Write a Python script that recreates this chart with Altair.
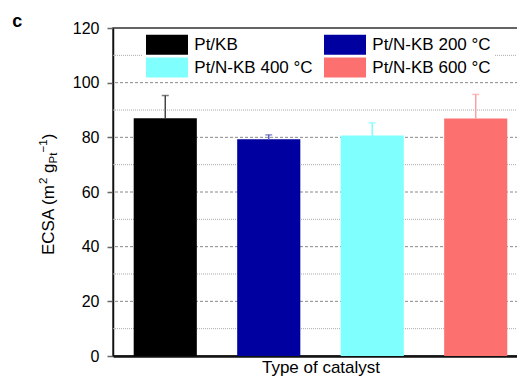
import altair as alt
import pandas as pd

FONT = "Liberation Sans"

catalysts = ["Pt/KB", "Pt/N-KB 200 °C", "Pt/N-KB 400 °C", "Pt/N-KB 600 °C"]
ecsa = [87.0, 79.3, 80.7, 86.9]
err = [8.3, 1.6, 4.6, 8.8]
y_ticks = [0, 10, 20, 30, 40, 50, 60, 70, 80, 90, 100, 110, 120]
major_grid = [20, 40, 60, 80, 100]
minor_grid = [10, 30, 50, 70, 90, 110]

bar_colors = ["#000000", "#0000a0", "#80ffff", "#fd7070"]
err_colors = ["#444444", "#6060c0", "#80ffff", "#ffa0a0"]

# legend is filled column by column: Pt/KB, 400 | 200, 600
legend_order = [catalysts[0], catalysts[2], catalysts[1], catalysts[3]]
bar_of = dict(zip(catalysts, bar_colors))
err_of = dict(zip(catalysts, err_colors))

df = pd.DataFrame({"catalyst": catalysts, "ecsa": ecsa, "err": err})

x_enc = alt.X(
    "catalyst:N",
    sort=catalysts,
    scale=alt.Scale(paddingInner=0.39, paddingOuter=0.2),
    axis=alt.Axis(
        title="Type of catalyst", labels=False, ticks=False, grid=False,
        domainColor="#111111", domainWidth=2.5,
        titleFontSize=17, titleFont=FONT, titleFontWeight="normal",
        titleColor="black", titlePadding=3,
    ),
)

y_scale = alt.Scale(domain=[0, 120], nice=False)

y_enc = alt.Y(
    "ecsa:Q",
    scale=y_scale,
    axis=alt.Axis(
        title=None,
        values=y_ticks,
        labelExpr="datum.value % 20 === 0 ? datum.label : ''",
        labelFontSize=16, labelFont=FONT, labelColor="black", labelPadding=8,
        tickSize=alt.condition("datum.value % 20 === 0", alt.value(6), alt.value(3)),
        tickColor="#666666", tickWidth=1.5,
        domainColor="#111111", domainWidth=1.5,
        grid=False,
    ),
)

grid_major = alt.Chart(pd.DataFrame({"v": major_grid})).mark_rule(
    color="#888888", strokeWidth=1, strokeDash=[3, 2]
).encode(y=alt.Y("v:Q", scale=y_scale, title=None))

grid_minor = alt.Chart(pd.DataFrame({"v": minor_grid})).mark_rule(
    color="#aaaaaa", strokeWidth=1, strokeDash=[1, 1]
).encode(y=alt.Y("v:Q", scale=y_scale, title=None))

bars = alt.Chart().mark_bar().encode(
    x=x_enc,
    y=y_enc,
    color=alt.Color(
        "catalyst:N",
        scale=alt.Scale(domain=legend_order, range=[bar_of[c] for c in legend_order]),
        legend=alt.Legend(
            title=None, orient="none", legendX=30, legendY=3,
            columns=2, columnPadding=11, rowPadding=2,
            symbolType="M-2,-0.95H2V0.95H-2Z", symbolSize=441,
            symbolStrokeWidth=0, symbolOffset=10.5, labelOffset=16.8,
            labelFontSize=17, labelFont=FONT, labelColor="black",
            fillColor="white", padding=3, labelLimit=300,
        ),
    ),
)

err_color = alt.Color(
    "catalyst:N",
    scale=alt.Scale(domain=catalysts, range=[err_of[c] for c in catalysts]),
    legend=None,
)

rules = alt.Chart().mark_rule(strokeWidth=1.5).transform_calculate(
    hi="datum.ecsa + datum.err"
).encode(
    x=x_enc,
    y=alt.Y("ecsa:Q", title=None),
    y2="hi:Q",
    color=err_color,
)

caps = alt.Chart().mark_tick(size=7, thickness=1.5).transform_calculate(
    hi="datum.ecsa + datum.err"
).encode(
    x=x_enc,
    y=alt.Y("hi:Q", title=None),
    color=err_color,
)


def piece(text, px, py, size, **kw):
    return alt.Chart(alt.Data(values=[{}])).mark_text(
        text=text, x=px, y=py, fontSize=size, font=FONT, color="black",
        align="left", baseline="alphabetic", **kw
    )


# y-axis title pieces: ECSA (m^2 g_Pt^-1), rotated to read upwards
bx = -59.5
t1 = piece("ECSA (m", bx, 227, 17, angle=270)
t2 = piece("2", bx - 6.5, 156.0, 11.5, angle=270)
t3 = piece("g", bx, 144.9, 17, angle=270)
t4 = piece("Pt", bx + 3.5, 135.4, 11.5, angle=270)
t5 = piece("\u2212" + "1", bx - 6.5, 124.5, 11.5, angle=270)
t6 = piece(")", bx, 111.2, 17, angle=270)
panel = piece("c", -100.7, -1, 18, fontWeight="bold")

chart = alt.layer(
    grid_minor, grid_major, bars, rules, caps, t1, t2, t3, t4, t5, t6, panel, data=df
).resolve_scale(color="independent").properties(
    width=415, height=328,
    autosize=alt.AutoSizeParams(type="none"),
    padding={"left": 105, "top": 20, "right": -11, "bottom": 21},
).configure_view(stroke="#333333", strokeWidth=1.5)

chart.save("out.html", embed_options={"renderer": "svg", "actions": False})
